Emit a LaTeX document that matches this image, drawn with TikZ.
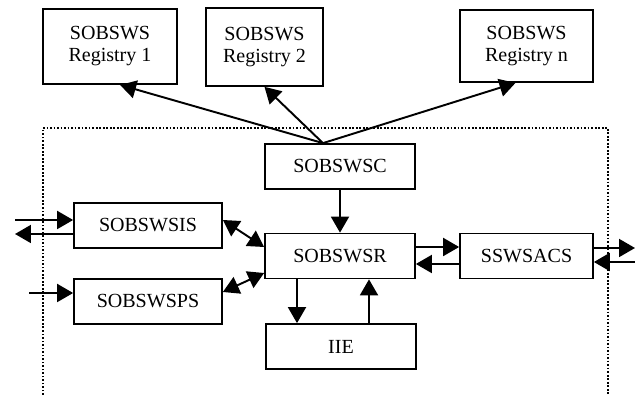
\documentclass[tikz,border=0pt]{standalone}
\usepackage{fontspec}
\setmainfont{Liberation Serif}
\usepackage{tikz}
\usetikzlibrary{arrows.meta,calc,positioning}
\tikzset{%
	box/.style    = {draw, rectangle, line width=1pt, minimum width=3cm, minimum height=0.9cm, text centered, align=center},
	arrow/.style  = {line width=1.1pt, -{Triangle[length=3.2mm,width=3.6mm]}},
	darrow/.style = {line width=1.1pt, {Triangle[length=3.2mm,width=3.6mm]}-{Triangle[length=3.2mm,width=3.6mm]}},
	frame/.style  = {densely dotted, line width=1pt},
}

\begin{document}
\begin{tikzpicture}[x=0.02cm, y=0.02cm, font=\fontsize{11.4}{12.5}\selectfont]
	
	\useasboundingbox (0,0) rectangle (635,395);
	
	% registries on top
	\node[box, minimum width=2.68cm, minimum height=1.5cm]  (reg1) at (110,348.5) {SOBSWS\\Registry 1};
	\node[box, minimum width=2.34cm, minimum height=1.56cm] (reg2) at (264.5,348) {SOBSWS\\Registry 2};
	\node[box, minimum width=2.66cm, minimum height=1.44cm] (regn) at (526.5,349) {SOBSWS\\Registry n};
	
	% dotted frame, open at the bottom
	\draw[frame] (43,0) -- (43,267) -- (608,267) -- (608,0);
	
	% blocks inside the frame
	\node[box] (sc)  at (340,228.5) {SOBSWSC};
	\node[box, minimum width=2.96cm] (sis) at (148,169.5) {SOBSWSIS};
	\node[box, minimum width=2.96cm] (sps) at (148,93.5)  {SOBSWSPS};
	\node[box] (sr)  at (340,139)   {SOBSWSR};
	\node[box, minimum width=2.66cm] (acs) at (526.5,139) {SSWSACS};
	\node[box] (iie) at (341,48.5)  {IIE};
	
	% fan out to the registries
	\coordinate (fan) at ($(sc.north)+(-17,0)$);
	\draw[arrow] (fan) -- ($(reg1.south)+(10,0)$);
	\draw[arrow] (fan) -- (reg2.south);
	\draw[arrow] (fan) -- ($(regn.south)+(-11,0)$);
	
	\draw[arrow] (sc) -- (sr);
	
	\draw[darrow] ($(sis.east)+(0,5.5)$) -- ($(sr.west)+(0,9)$);
	\draw[darrow] ($(sps.east)+(0,9.5)$) -- ($(sr.west)+(0,-17)$);
	
	\draw[arrow] ($(sr.south)+(-43,0)$) -- ($(iie.north)+(-44,0)$);
	\draw[arrow] ($(iie.north)+(28,0)$) -- ($(sr.south)+(29,0)$);
	
	\draw[arrow] ($(sr.east)+(0,9)$) -- ($(acs.west)+(0,9)$);
	\draw[arrow] ($(acs.west)+(0,-8)$) -- ($(sr.east)+(0,-8)$);
	
	% outside connections
	\coordinate (sisin)  at (15,175);
	\coordinate (sisout) at (15,161);
	\coordinate (spsin)  at (29,102);
	\coordinate (acsout) at (635,147);
	\coordinate (acsin)  at (635,133);
	
	\draw[arrow] (sisin) -- (sisin -| sis.west);
	\draw[arrow] (sisout -| sis.west) -- (sisout);
	\draw[arrow] (spsin) -- (spsin -| sps.west);
	\draw[arrow] (acsout -| acs.east) -- (acsout);
	\draw[arrow] (acsin) -- (acsin -| acs.east);
	
\end{tikzpicture}
\end{document}
